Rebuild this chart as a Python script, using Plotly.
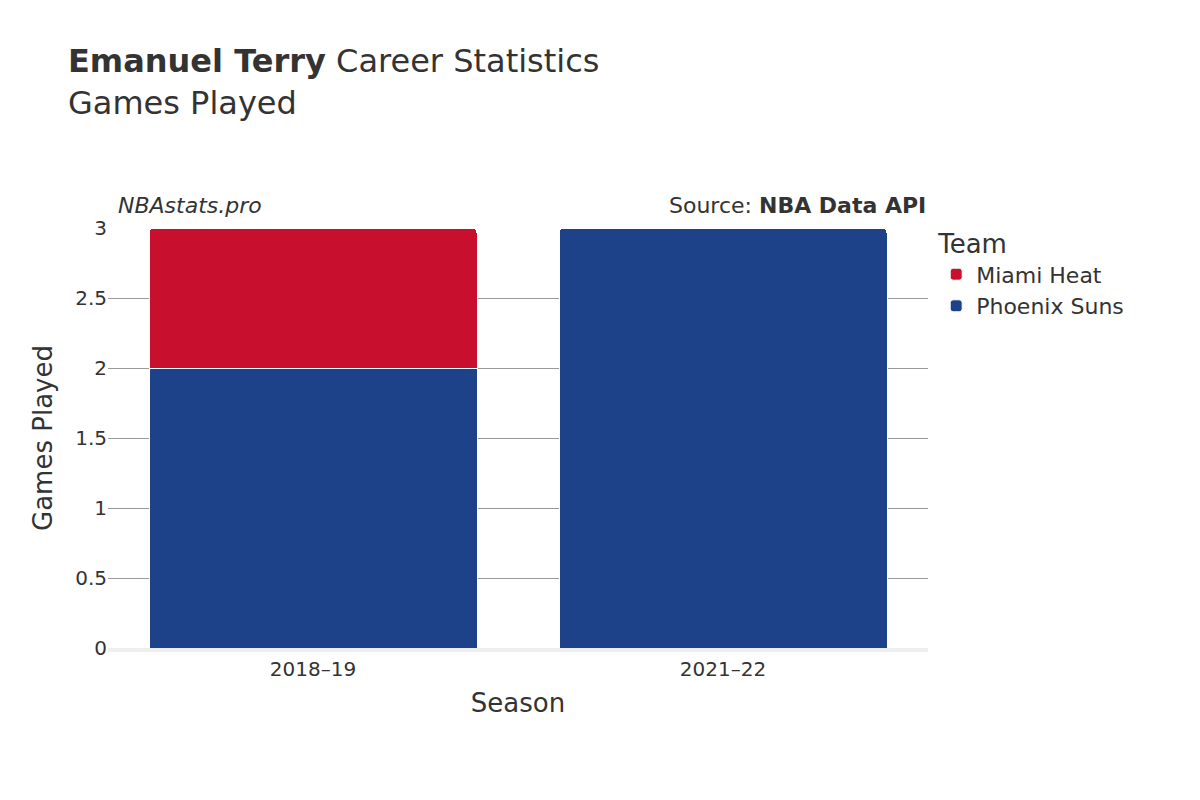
import plotly.graph_objects as go

seasons = ["2018–19", "2021–22"]
suns = [2, 3]
heat = [1, 0]

fig = go.Figure()
fig.add_bar(x=seasons, y=suns, name="Phoenix Suns", marker=dict(color="#1D428A", line=dict(color="white", width=1), cornerradius=5))
fig.add_bar(x=[seasons[0]], y=[heat[0]], name="Miami Heat", marker=dict(color="#C8102E", line=dict(color="white", width=1), cornerradius=5))

fig.update_layout(
    width=1200, height=800, barmode="stack", bargap=0.2,
    font=dict(family="DejaVu Sans", size=20, color="#333"),
    plot_bgcolor="white", paper_bgcolor="white",
    title=dict(text="<b>Emanuel Terry</b> Career Statistics<br>Games Played", x=0.05, y=0.92, xanchor="left", font=dict(size=32)),
    margin=dict(l=100, r=280, t=220, b=160),
    xaxis=dict(title=dict(text="Season", font=dict(size=26)), showline=True, linecolor="#eee", linewidth=4),
    yaxis=dict(title=dict(text="Games Played", font=dict(size=26)), range=[0, 3], gridcolor="#999", zeroline=False, dtick=0.5),
    legend=dict(title=dict(text="Team", font=dict(size=26)), x=1.01, y=1.02, yanchor="top", font=dict(size=22)),
    annotations=[
        dict(text="<i>NBAstats.pro</i>", xref="paper", yref="paper", x=0.01, y=1.02, xanchor="left", yanchor="bottom", showarrow=False, font=dict(size=22)),
        dict(text="Source: <b>NBA Data API</b>", xref="paper", yref="paper", x=1, y=1.02, xanchor="right", yanchor="bottom", showarrow=False, font=dict(size=22)),
    ],
)
fig.write_html("out.html")
